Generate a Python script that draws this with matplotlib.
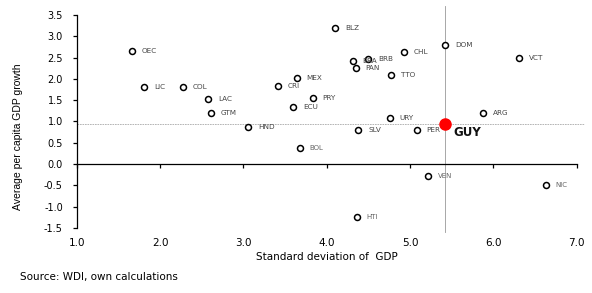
import matplotlib
matplotlib.use("Agg")
import matplotlib.pyplot as plt

plt.rcParams["font.family"] = ["DejaVu Sans"]

# volatility vs growth, country codes
codes = ["OEC", "LIC", "COL", "LAC", "GTM", "HND", "BOL", "CRI", "MEX", "PRY",
         "ECU", "BLZ", "BRA", "BRB", "PAN", "CHL", "TTO", "DOM", "VCT", "ARG",
         "URY", "SLV", "PER", "VEN", "NIC", "HTI"]
std_gdp = [1.66, 1.81, 2.27, 2.58, 2.61, 3.06, 3.68, 3.42, 3.64, 3.83,
           3.60, 4.10, 4.31, 4.50, 4.35, 4.93, 4.77, 5.42, 6.31, 5.88,
           4.76, 4.38, 5.08, 5.22, 6.63, 4.36]
growth = [2.66, 1.82, 1.81, 1.53, 1.19, 0.86, 0.38, 1.84, 2.02, 1.56,
          1.35, 3.20, 2.42, 2.46, 2.25, 2.64, 2.10, 2.79, 2.48, 1.19,
          1.07, 0.79, 0.79, -0.27, -0.49, -1.25]
faint = ["BOL", "VEN", "NIC", "HTI"]

guy_x, guy_y = 5.42, 0.93
mean_growth = 0.94

xticks = [1.0, 2.0, 3.0, 4.0, 5.0, 6.0, 7.0]
yticks = [-1.5, -1.0, -0.5, 0.0, 0.5, 1.0, 1.5, 2.0, 2.5, 3.0, 3.5]

fig = plt.figure(figsize=(5.92, 2.93), dpi=100)
ax = fig.add_axes([0.1296, 0.222, 0.8446, 0.727])

ax.set_xlim(1.0, 7.0)
ax.set_ylim(-1.5, 3.5)

# reference lines through Guyana
ax.axhline(mean_growth, color="#aaaaaa", lw=0.6, ls=(0, (2, 1)), xmax=1.015, clip_on=False, zorder=1)
ax.axvline(guy_x, color="#999999", lw=0.6, ymin=-0.02, ymax=1.04, clip_on=False, zorder=1)

ax.plot(std_gdp, growth, "o", ms=4.3, mfc="white", mec="black", mew=1.1, zorder=3)
for c, x, y in zip(codes, std_gdp, growth):
    if c in faint:
        ax.annotate(c, (x, y), xytext=(7, 0), textcoords="offset points",
                    fontsize=5, color="#666666", va="center", zorder=4)
    else:
        ax.annotate(c, (x, y), xytext=(7, 0), textcoords="offset points",
                    fontsize=5.2, color="#444444", va="center", zorder=4)

ax.plot([guy_x], [guy_y], "o", ms=8, color="#ff0000", zorder=5)
ax.annotate("GUY", (guy_x, guy_y), xytext=(6, -6), textcoords="offset points",
            fontsize=8.5, fontweight="bold", color="#111111", va="center", zorder=5)

# axes: y spine on the left, x spine through zero, labels at the bottom
ax.spines["top"].set_visible(False)
ax.spines["right"].set_visible(False)
ax.spines["bottom"].set_position(("data", 0))
ax.spines["left"].set_linewidth(0.9)
ax.spines["bottom"].set_linewidth(0.9)
ax.set_xticks(xticks)
ax.set_yticks(yticks)
ax.set_yticklabels([f"{v:.1f}" for v in yticks])
ax.tick_params(axis="x", direction="out", length=3, width=0.9, labelbottom=False)
ax.tick_params(axis="y", direction="out", length=3, width=0.9, labelsize=7, pad=7)

sec = ax.secondary_xaxis(0)
sec.set_xticks(xticks)
sec.set_xticklabels([f"{v:.1f}" for v in xticks])
sec.spines["bottom"].set_visible(False)
sec.tick_params(length=0, labelsize=7.5, pad=7)
sec.set_xlabel("Standard deviation of  GDP", fontsize=7.5, labelpad=3)

fig.text(0.031, 1 - 137 / 293, "Average per capita GDP growth", rotation=90,
         fontsize=7.5, ha="center", va="center", family="Liberation Sans")
fig.text(0.034, 1 - 277 / 293, "Source: WDI, own calculations", fontsize=7.5,
         ha="left", va="center")

fig.savefig("out.png", dpi=100)
